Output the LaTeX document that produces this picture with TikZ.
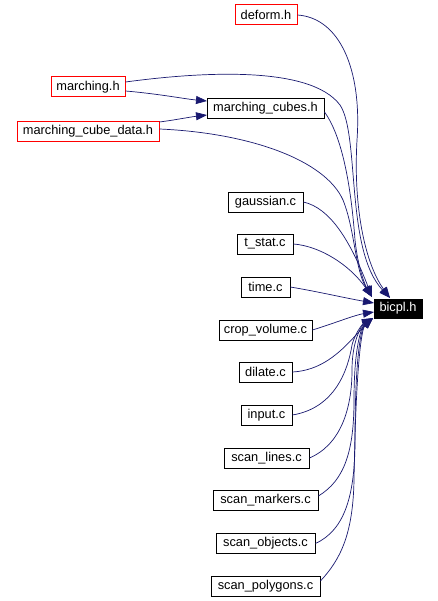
\documentclass[tikz,border=0pt]{standalone}
\usepackage{fontspec}
\setmainfont{Liberation Sans}
\usetikzlibrary{arrows.meta}
\definecolor{edgeblue}{HTML}{191970}
\definecolor{boxred}{HTML}{FF0000}
\begin{document}
\begin{tikzpicture}[x=1pt,y=-1pt,
  box/.style={draw,line width=0.8pt,fill=white,inner sep=0pt,minimum height=20pt,font=\fontsize{12.8}{14}\selectfont,text=black},
  redbox/.style={box,color=boxred,draw=boxred,fill=white,line width=1pt,text=black},
  edge/.style={draw=edgeblue,line width=0.7pt,-{Triangle[length=11pt,width=8pt]}}]
\useasboundingbox (0,0) rectangle (438,601);
\fill[white] (0,0) rectangle (438,601);
% nodes
\node[redbox,minimum width=62pt] (deform) at (266,15) {deform.h};
\node[redbox,minimum width=74pt] (marching) at (88,87) {marching.h};
\node[box,draw=black,minimum width=117pt] (mcubes) at (265.5,108.5) {marching\_cubes.h};
\node[redbox,minimum width=142pt] (mcdata) at (88,131.5) {marching\_cube\_data.h};
\node[box,draw=black,minimum width=75pt] (gaussian) at (265.5,202) {gaussian.c};
\node[box,draw=black,minimum width=56pt] (tstat) at (265,244) {t\_stat.c};
\node[box,draw=black,minimum width=49pt] (time) at (265.5,287) {time.c};
\node[box,draw=black,fill=black,text=white,minimum width=48pt,minimum height=19pt] (bicpl) at (398,308.5) {bicpl.h};
\node[box,draw=black,minimum width=93pt] (crop) at (265.5,330) {crop\_volume.c};
\node[box,draw=black,minimum width=53pt] (dilate) at (265.5,372) {dilate.c};
\node[box,draw=black,minimum width=51pt] (input) at (266.5,415) {input.c};
\node[box,draw=black,minimum width=85pt] (slines) at (266.5,458) {scan\_lines.c};
\node[box,draw=black,minimum width=105pt] (smarkers) at (265.5,500) {scan\_markers.c};
\node[box,draw=black,minimum width=99pt] (sobjects) at (265.5,543.5) {scan\_objects.c};
\node[box,draw=black,minimum width=109pt] (spolygons) at (265.5,586) {scan\_polygons.c};
% arrow tip coordinates
\coordinate (tA) at (372,297);
\coordinate (tB) at (390,298);
\coordinate (tC) at (374,303);
\coordinate (tD) at (374,312);
\coordinate (tE) at (373,318);
\coordinate (mA) at (207,101);
\coordinate (mB) at (207,115);
% edges into marching_cubes.h
\draw[edge] ([yshift=-4pt]marching.east) .. controls (160,94) and (185,99) .. (mA);
\draw[edge] ([yshift=9.5pt]mcdata.east) .. controls (175,120) and (190,117) .. (mB);
% edges into bicpl.h
\draw[edge] (deform.east) .. controls (340,18) and (362,70) .. (357,140)
  .. controls (353,210) and (366,265) .. (tB);
\draw[edge] ([yshift=5pt]marching.east) .. controls (200,72) and (310,65) .. (340,105)
  .. controls (360,135) and (345,250) .. (tB);
\draw[edge] ([yshift=7pt]mcubes.south east) .. controls (345,140) and (352,200) .. (355,240)
  .. controls (358,268) and (365,285) .. (tA);
\draw[edge] ([yshift=2.5pt]mcdata.east) .. controls (250,133) and (325,160) .. (343,200)
  .. controls (355,230) and (355,270) .. (tA);
\draw[edge] (gaussian.east) .. controls (330,208) and (350,240) .. (tA);
\draw[edge] (tstat.east) .. controls (320,246) and (350,265) .. (tA);
\draw[edge] (time.east) .. controls (320,292) and (345,298) .. (tC);
\draw[edge] (crop.east) .. controls (335,323) and (355,315) .. (tD);
\draw[edge] (dilate.east) .. controls (330,370) and (350,340) .. (tE);
\draw[edge] (input.east) .. controls (335,408) and (348,370) .. (352,345)
  .. controls (356,330) and (365,322) .. (tE);
\draw[edge] (slines.east) .. controls (340,445) and (352,410) .. (352,370)
  .. controls (352,340) and (362,325) .. (tE);
\draw[edge] ([yshift=4pt]smarkers.east) .. controls (345,480) and (354,450) .. (354,400)
  .. controls (354,345) and (362,326) .. (tE);
\draw[edge] (sobjects.east) .. controls (345,530) and (355,495) .. (355,440)
  .. controls (355,350) and (362,327) .. (tE);
\draw[edge] ([yshift=5pt]spolygons.east) .. controls (340,560) and (353,535) .. (354,480)
  .. controls (356,360) and (362,328) .. (tE);
\end{tikzpicture}
\end{document}
